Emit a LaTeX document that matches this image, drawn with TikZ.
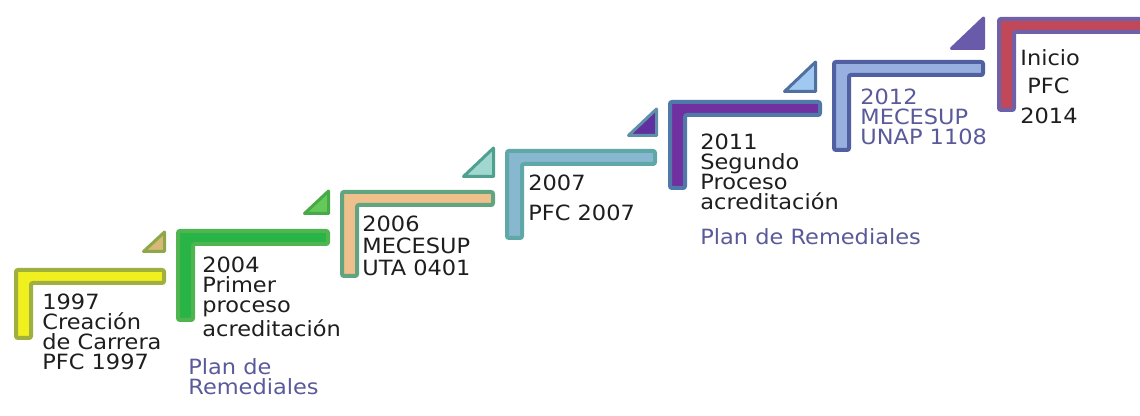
\documentclass[tikz,border=0pt]{standalone}
\usepackage{fontspec}
\newfontfamily\verd[FakeStretch=1.07]{DejaVu Sans}
\definecolor{yelF}{RGB}{240,240,30}
\definecolor{yelB}{RGB}{160,176,64}
\definecolor{grnF}{RGB}{40,180,70}
\definecolor{grnB}{RGB}{80,180,80}
\definecolor{tanF}{RGB}{240,192,140}
\definecolor{tanB}{RGB}{96,164,128}
\definecolor{bluF}{RGB}{136,184,208}
\definecolor{bluB}{RGB}{96,168,168}
\definecolor{purF}{RGB}{112,48,160}
\definecolor{purB}{RGB}{80,120,168}
\definecolor{lbuF}{RGB}{152,176,224}
\definecolor{lbuB}{RGB}{80,96,160}
\definecolor{redF}{RGB}{192,72,88}
\definecolor{redB}{RGB}{112,96,168}
\definecolor{triA}{RGB}{216,184,120}
\definecolor{triAb}{RGB}{140,168,72}
\definecolor{triB}{RGB}{100,200,90}
\definecolor{triBb}{RGB}{70,170,70}
\definecolor{triC}{RGB}{160,216,208}
\definecolor{triCb}{RGB}{80,160,144}
\definecolor{triD}{RGB}{96,48,160}
\definecolor{triDb}{RGB}{96,144,168}
\definecolor{triE}{RGB}{160,200,240}
\definecolor{triEb}{RGB}{80,112,160}
\definecolor{triF}{RGB}{106,90,170}
\definecolor{remed}{RGB}{90,90,155}
\definecolor{txt}{RGB}{30,30,30}
\tikzset{
  label/.style={anchor=north west, inner sep=0pt, align=left, text=txt,
    font=\verd\fontsize{10.5}{10}\selectfont},
  remlabel/.style={label, text=remed}
}
\begin{document}
\begin{tikzpicture}[x=0.5pt, y=-0.5pt]
    \useasboundingbox (0,0) rectangle (1140,416);
    \clip (0,0) rectangle (1140,416);
    % Steps (left/top/right/bottom, fill, border)
    \foreach \l/\t/\r/\b/\fc/\bc in {14/268/166/340/yelF/yelB,
        176/229/330/322/grnF/grnB, 340/190/495/278/tanF/tanB,
        505/149/657/240/bluF/bluB, 668/100/822/190/purF/purB,
        832/60/985/152/lbuF/lbuB, 997/17/1160/112/redF/redB}
        \filldraw[fill=\fc, draw=\bc, line width=2pt, rounded corners=1pt]
            (\l+2,\b-2) -- (\l+2,\t+2) -- (\r-2,\t+2) -- (\r-2,\t+15)
            -- (\l+17,\t+15) -- (\l+17,\b-2) -- cycle;
    % Triangles (right/bottom/size, fill, border)
    \foreach \r/\b/\s/\fc/\bc in {166/253/21/triA/triAb,
        330/215/24/triB/triBb, 495/178/30/triC/triCb,
        658/137/28/triD/triDb, 817/93/31/triE/triEb, 985/50/32/triF/triF}
        \filldraw[fill=\fc, draw=\bc, line width=1.5pt, line join=round]
            (\r-\s-1.5,\b-1.5) -- (\r-1.5,\b-1.5) -- (\r-1.5,\b-\s) -- cycle;
    % Labels
    \node[label] (y1997) at (42,294) {1997\\Creación\\de Carrera\\PFC 1997};
    \node[label] (y2004) at (202,257) {2004\\Primer\\proceso\\acreditación};
    \node[remlabel] (rem1) at (188,358) {Plan de\\Remediales};
    \node[label] (y2006) at (362,216) {2006\\[1pt]MECESUP\\[1pt]UTA 0401};
    \node[label] (y2007) at (528,175) {2007\\[5pt]PFC 2007};
    \node[label] (y2011) at (700,134) {2011\\Segundo\\Proceso\\acreditación};
    \node[remlabel] (rem2) at (700,228) {Plan de Remediales};
    \node[remlabel] (y2012) at (860,89) {2012\\MECESUP\\UNAP 1108};
    \node[label] (y2014) at (1020,49) {Inicio\\[4pt]\hspace{3.5pt}PFC\\[5pt]2014};
\end{tikzpicture}
\end{document}
